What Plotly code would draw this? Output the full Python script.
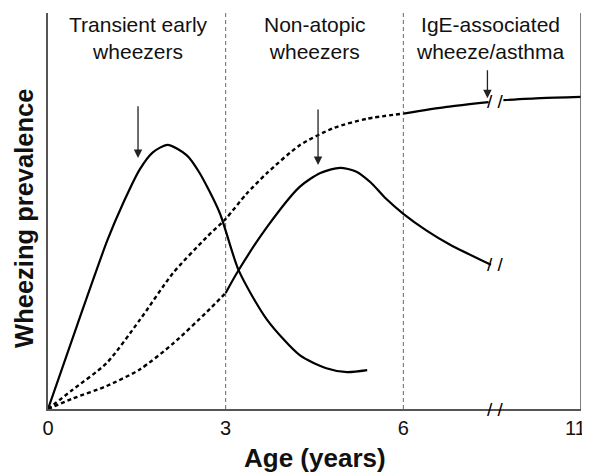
import plotly.graph_objects as go

# ---- data (age positions on a broken axis: 9 == 11 years) ----
tick_vals = [0, 3, 6, 9]
tick_text = ["0", "3", "6", "11\u00a0\u00a0"]

transient_age = [0, 0.5, 1.0, 1.27, 1.55, 1.77, 2.02, 2.34, 2.56, 2.90, 3.22, 3.70, 4.25, 4.70, 5.05, 5.39]
transient_prev = [0, 21.5, 42.5, 52.0, 60.5, 64.8, 66.7, 64.1, 59.6, 49.5, 35.0, 22.5, 13.6, 10.3, 9.3, 9.8]

nonatopic_early_age = [0, 0.41, 0.99, 1.55, 2.11, 2.68, 3.0]
nonatopic_early_prev = [0, 2.6, 5.8, 10.0, 16.5, 24.5, 29.3]
nonatopic_late_age = [3.0, 3.2, 3.7, 4.25, 4.60, 4.93, 5.20, 5.45, 5.70, 6.0, 6.40, 6.79, 7.48]
nonatopic_late_prev = [29.3, 34.6, 46.0, 56.1, 59.6, 60.9, 60.0, 57.2, 53.2, 49.3, 45.0, 41.5, 36.4]

ige_early_age = [0, 0.41, 0.99, 1.55, 2.11, 2.68, 3.0, 3.35, 3.7, 4.25, 4.83, 5.39, 6.0]
ige_early_prev = [0, 4.8, 11.6, 22.5, 34.3, 43.4, 48.0, 54.3, 59.6, 66.6, 71.0, 73.3, 74.6]
ige_mid_age = [6.0, 6.73, 7.44]
ige_mid_prev = [74.6, 76.3, 77.5]
ige_late_age = [7.69, 8.32, 9.0]
ige_late_prev = [78.0, 78.5, 78.8]

period_bounds = [3, 6]
break_age = 7.56

phase_labels = ["Transient early<br>wheezers", "Non-atopic<br>wheezers", "IgE-associated<br>wheeze/asthma"]
label_age = [1.52, 4.51, 7.47]

arrow_age = [1.52, 4.56, 7.42]
arrow_tip = [63.4, 61.6, 78.5]
arrow_tail = [76.8, 76.0, 85.9]

FONT = "Liberation Sans, Arial, sans-serif"
INK = "#111111"

fig = go.Figure()

solid = dict(color="black", width=2.2)
dotted = dict(color="black", width=2.4, dash="4px,3px")

def add(x, y, line):
    fig.add_trace(go.Scatter(x=x, y=y, mode="lines", line=dict(shape="spline", smoothing=0.7, **line),
                             hoverinfo="skip", showlegend=False))

add(transient_age, transient_prev, solid)
add(nonatopic_early_age, nonatopic_early_prev, dotted)
add(nonatopic_late_age, nonatopic_late_prev, solid)
add(ige_early_age, ige_early_prev, dotted)
add(ige_mid_age, ige_mid_prev, solid)
add(ige_late_age, ige_late_prev, solid)

for b in period_bounds:
    fig.add_shape(type="line", xref="x", yref="paper", x0=b, x1=b, y0=0, y1=1,
                  line=dict(color="#666666", width=1, dash="4px,3px"), layer="below")

# right border
fig.add_shape(type="line", xref="x", yref="paper", x0=tick_vals[-1], x1=tick_vals[-1], y0=0, y1=1,
              line=dict(color="#555555", width=1.5))

for lbl, xa in zip(phase_labels, label_age):
    fig.add_annotation(x=xa, xref="x", y=0.938, yref="paper", text=lbl, showarrow=False,
                       font=dict(family=FONT, size=21, color=INK), yanchor="middle", xanchor="center")

for xa, tip, tail in zip(arrow_age, arrow_tip, arrow_tail):
    fig.add_annotation(x=xa, y=tip, ax=xa, ay=tail, xref="x", yref="y", axref="x", ayref="y",
                       text="", showarrow=True, arrowhead=2, arrowsize=1.3, arrowwidth=1.3,
                       arrowcolor="#222222", standoff=0)

# break marks
break_levels = [0, nonatopic_late_prev[-1], (ige_mid_prev[-1] + ige_late_prev[0]) / 2]
for lv in break_levels:
    fig.add_annotation(x=break_age, y=lv, xref="x", yref="y", text="/ /", showarrow=False,
                       font=dict(family=FONT, size=19, color="black"), bgcolor="rgba(0,0,0,0)",
                       xanchor="center", yanchor="middle")

fig.add_annotation(x=0.5, xref="paper", y=-0.124, yref="paper", text="<b>Age (years)</b>", showarrow=False,
                   font=dict(family=FONT, size=26, color=INK), xanchor="center", yanchor="middle")
fig.add_annotation(x=-0.045, xref="paper", y=0.48, yref="paper", text="<b>Wheezing prevalence</b>",
                   showarrow=False, textangle=-90, borderpad=0,
                   font=dict(family=FONT, size=25.5, color=INK), xanchor="center", yanchor="middle")

# the page body adds an 8px margin, so the figure is sized/offset to compensate
fig.update_layout(
    width=582, height=464,
    margin=dict(l=40, r=9, t=5, b=63),
    paper_bgcolor="white", plot_bgcolor="white",
    xaxis=dict(range=[0, 9], tickvals=tick_vals, ticktext=tick_text, showgrid=False, zeroline=False,
               showline=True, linecolor="#555555", linewidth=1.5, ticks="", automargin=False,
               ticklabeloverflow="allow",
               tickfont=dict(family=FONT, size=20, color=INK)),
    yaxis=dict(range=[0, 100], showticklabels=False, showgrid=False, zeroline=False, automargin=False,
               showline=True, linecolor="#555555", linewidth=1.5, ticks=""),
)

fig.write_html("out.html")
